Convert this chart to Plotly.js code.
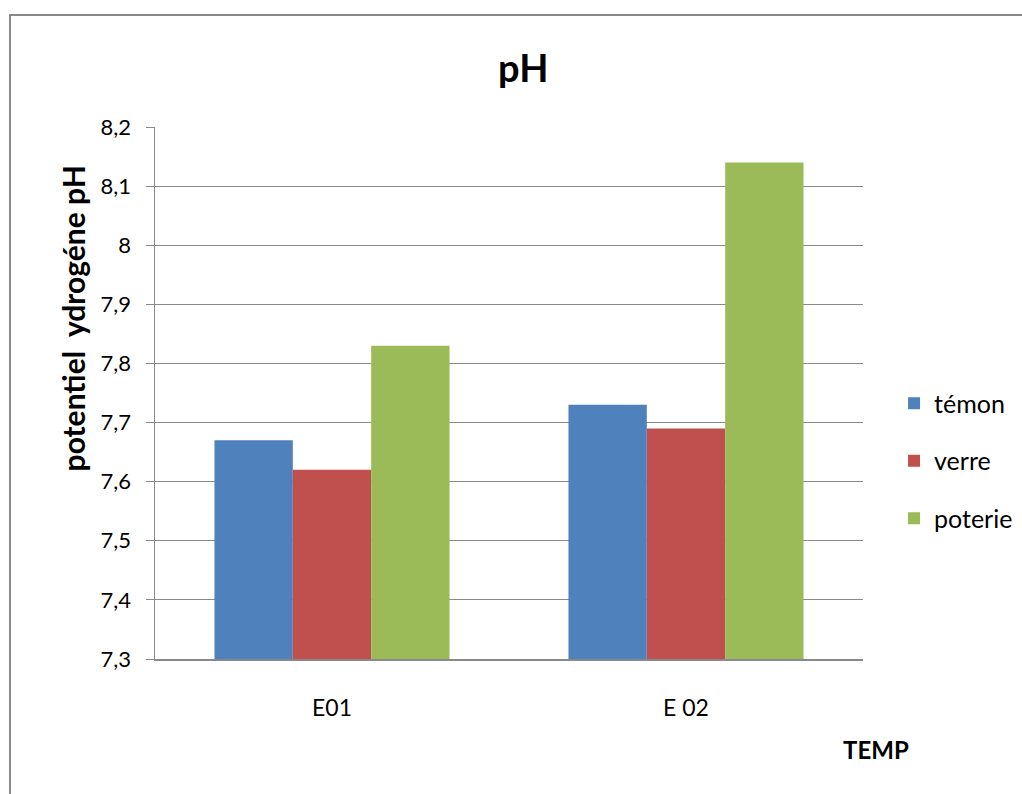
<!DOCTYPE html>
<html><head><meta charset="utf-8">
<script src="https://cdn.plot.ly/plotly-3.0.1.min.js"></script>
<style>body{margin:0;background:#fff}#c{width:1022px;height:794px}</style>
</head><body><div id="c"></div>
<script>
const categories = ["E01", "E 02"];
const seriesNames = ["témon", "verre", "poterie"];
const temon = [7.67, 7.73];
const verre = [7.62, 7.69];
const poterie = [7.83, 8.14];
const colors = ["#4F81BD", "#C0504D", "#9BBB59"];
const values = [temon, verre, poterie];
const axisMin = 7.3;
const font = "Lato, 'Open Sans', 'Liberation Sans', sans-serif";

const traces = values.map((v, i) => ({
  type: "bar", x: categories, y: v.map(d => d - axisMin), base: axisMin,
  name: seriesNames[i], marker: {color: colors[i]}, legendgroup: "g" + i,
  hoverinfo: "skip"
}));

const layout = {
  width: 1022, height: 794,
  margin: {l: 155, r: 159, t: 127, b: 135},
  paper_bgcolor: "#fff", plot_bgcolor: "#fff",
  separators: ", ",
  barmode: "group", bargap: 0.336, bargroupgap: 0,
  font: {family: font, color: "#000"},
  title: {text: "<b>pH</b>", font: {size: 38, family: font, color: "#000"}, x: 0.512, xref: "container", xanchor: "center", y: 0.913, yanchor: "middle"},
  xaxis: {automargin: false, showgrid: false, showline: true, linecolor: "#898989", linewidth: 1.5, ticks: "", tickfont: {size: 23}, ticklabelstandoff: 28, zeroline: false},
  yaxis: {automargin: false, range: [7.3, 8.2], dtick: 0.1, tick0: 7.3, showgrid: true, gridcolor: "#898989", gridwidth: 1, showline: true, linecolor: "#898989", linewidth: 1.5, ticks: "outside", ticklen: 8, tickcolor: "#898989", tickfont: {size: 22}, ticklabelstandoff: 10, zeroline: false},
  legend: {xref: "container", yref: "container", x: 0.8748, y: 0.4194, xanchor: "left", yanchor: "middle", font: {size: 25}, tracegroupgap: 22, traceorder: "grouped", bgcolor: "rgba(0,0,0,0)"},
  annotations: [
    {text: "<b>potentiel  ydrogéne pH</b>", xref: "paper", yref: "paper", x: -0.116, y: 0.64, xanchor: "center", yanchor: "middle", textangle: -90, showarrow: false, font: {size: 30}},
    {text: "<b>TEMP</b>", xref: "paper", yref: "paper", x: 1.018, y: -0.171, xanchor: "center", yanchor: "middle", showarrow: false, font: {size: 24}}
  ],
  shapes: [
    {type: "rect", xref: "paper", yref: "paper", x0: -0.2048, y0: -0.3, x1: 1.3, y1: 1.2105, line: {color: "#898989", width: 2}, fillcolor: "rgba(0,0,0,0)", layer: "below"}
  ]
};
Plotly.newPlot("c", traces, layout, {displayModeBar: false, staticPlot: true});
</script></body></html>
